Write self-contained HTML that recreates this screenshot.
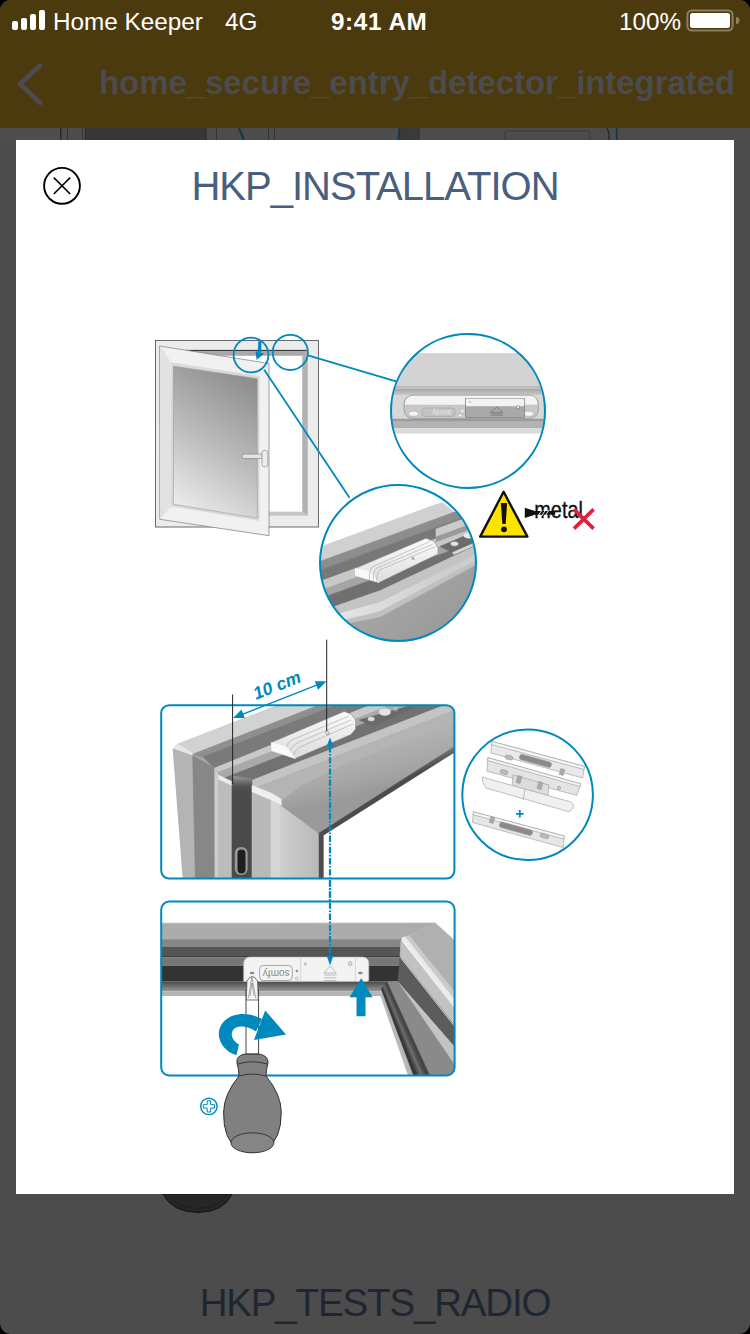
<!DOCTYPE html>
<html><head><meta charset="utf-8">
<style>
*{margin:0;padding:0;box-sizing:border-box}
html,body{width:750px;height:1334px;overflow:hidden;background:#000}
body{font-family:"Liberation Sans",sans-serif;position:relative}
#screen{position:absolute;left:0;top:0;width:750px;height:1334px;border-radius:11px;overflow:hidden;background:#4c4c4c}
#nav{position:absolute;left:0;top:0;width:750px;height:128px;background:#4a3a0e}
.sb{position:absolute;color:#fff;font-size:24.3px;margin-top:1.5px;white-space:nowrap;line-height:1}
#navtitle{position:absolute;left:99px;top:66.5px;font-size:32.9px;font-weight:bold;color:#4c4c4e;white-space:nowrap;line-height:1}
#modal{position:absolute;left:16px;top:140px;width:718px;height:1054px;background:#fff}
#title{position:absolute;left:0;width:750px;text-align:center;top:166px;font-size:40px;letter-spacing:-1px;color:#48607e;white-space:nowrap;line-height:1}
#bottomtitle{position:absolute;left:0;width:750px;text-align:center;top:1283.5px;font-size:38.5px;letter-spacing:-1.15px;color:#1e2731;white-space:nowrap;line-height:1}
svg{position:absolute;left:0;top:0}
</style></head>
<body>
<div id="screen">
  <div id="nav"></div>
  <svg width="750" height="1334" viewBox="0 0 750 1334" style="position:absolute;left:0;top:0">
 <!-- background page remnants under overlay -->
 <rect x="0" y="128" width="750" height="14" fill="#4c4c4c"/>
 <rect x="0" y="128" width="60" height="14" fill="#4e4e4e"/>
 <rect x="86" y="128" width="120" height="14" fill="#373737"/>
 <rect x="60" y="128" width="1.5" height="14" fill="#2a2a2a"/>
 <rect x="67" y="128" width="1" height="14" fill="#333"/>
 <rect x="82" y="128" width="1" height="14" fill="#333"/>
 <rect x="85" y="128" width="1" height="14" fill="#2a2a2a"/>
 <rect x="205" y="128" width="1.5" height="14" fill="#2e2e2e"/>
 <rect x="216" y="128" width="1" height="14" fill="#333"/>
 <rect x="268" y="128" width="1" height="14" fill="#333"/>
 <rect x="274" y="128" width="1" height="14" fill="#333"/>
 <path d="M239 128 L244 140" stroke="#0a3a4e" stroke-width="2"/>
 <rect x="400" y="128" width="20" height="14" fill="#3a3a3a"/>
 <path d="M399.5 128 L398.5 140" stroke="#0a3a4e" stroke-width="2"/>
 <path d="M505 140 V133 q0 -2 2 -2 H588 q2 0 2 2 V140" fill="none" stroke="#3a3a3a" stroke-width="1"/>
 <path d="M607 128 q3 6 2 12" fill="none" stroke="#2a2a2a" stroke-width="1.5"/>
 <path d="M616.5 128 L617 140" stroke="#0a3a4e" stroke-width="1.5"/>
 <!-- handle below modal -->
 <path d="M163 1194 Q172 1212 198 1212.5 Q224 1212 232 1194 Z" fill="#262626" stroke="#111" stroke-width="1"/>
 <path d="M168 1194 Q176 1208 198 1208.5 Q220 1208 227 1194" fill="none" stroke="#1a1a1a" stroke-width="0.8"/>
 <rect x="40" y="1229.8" width="670" height="1" fill="#494949"/>
</svg>

  <!-- status bar -->
  <svg width="750" height="40" viewBox="0 0 750 40">
    <g fill="#fff">
      <rect x="12" y="21" width="6" height="9" rx="2"/>
      <rect x="21" y="18" width="6" height="12" rx="2"/>
      <rect x="30" y="14" width="6" height="16" rx="2"/>
      <rect x="39" y="10" width="6" height="20" rx="2"/>
    </g>
    <rect x="687.4" y="10.4" width="45.2" height="20.2" rx="4.5" fill="none" stroke="#8a7f62" stroke-width="2"/>
    <rect x="690" y="13" width="40" height="15" rx="2.5" fill="#fff"/>
    <path d="M736 17 v7 a3.5 3.5 0 0 0 0 -7z" fill="#8a7f62"/>
  </svg>
  <div class="sb" style="left:53px;top:8px">Home Keeper</div>
  <div class="sb" style="left:225px;top:8px">4G</div>
  <div class="sb" style="left:331px;top:8px;font-weight:bold;letter-spacing:0.6px">9:41 AM</div>
  <div class="sb" style="left:619px;top:8px">100%</div>
  <!-- nav -->
  <svg width="60" height="128" viewBox="0 0 60 128">
    <path d="M40 65.5 L20 84 L40 102.8" fill="none" stroke="#4c4c4e" stroke-width="4.8" stroke-linecap="round" stroke-linejoin="round"/>
  </svg>
  <div id="navtitle">home_secure_entry_detector_integrated</div>
  <div id="bottomtitle">HKP_TESTS_RADIO</div>
  <div id="modal"></div>
  <div id="title">HKP_INSTALLATION</div>
  <svg width="100" height="230" viewBox="0 0 100 230">
    <circle cx="62" cy="185.8" r="17.9" fill="none" stroke="#000" stroke-width="1.9"/>
    <path d="M53.8 177.6 L70.2 194 M70.2 177.6 L53.8 194" stroke="#000" stroke-width="1.6"/>
  </svg>
  <svg width="750" height="1334" viewBox="0 0 750 1334" style="position:absolute;left:0;top:0">
<defs>
  <clipPath id="bx1"><rect x="161.2" y="705.2" width="293.2" height="173.4" rx="8"/></clipPath>
  <clipPath id="bx2"><rect x="161.2" y="901.6" width="293.4" height="173.9" rx="8"/></clipPath>
  <clipPath id="c3"><circle cx="527.6" cy="794.8" r="64.5"/></clipPath>
  <linearGradient id="rail" x1="400" y1="700" x2="420" y2="780" gradientUnits="userSpaceOnUse">
    <stop offset="0" stop-color="#a4a4a4"/><stop offset="0.45" stop-color="#b2b2b2"/><stop offset="0.8" stop-color="#a6a6a6"/><stop offset="1" stop-color="#9a9a9a"/>
  </linearGradient>
  <linearGradient id="edge" x1="400" y1="770" x2="404" y2="779" gradientUnits="userSpaceOnUse">
    <stop offset="0" stop-color="#7a7a7a"/><stop offset="1" stop-color="#4c4c4c"/>
  </linearGradient>
  <linearGradient id="stile" x1="280" y1="0" x2="318" y2="0" gradientUnits="userSpaceOnUse">
    <stop offset="0" stop-color="#cfcfcf"/><stop offset="1" stop-color="#b9b9b9"/>
  </linearGradient>
  <linearGradient id="post" x1="0" y1="776" x2="0" y2="792" gradientUnits="userSpaceOnUse">
    <stop offset="0" stop-color="#9a9a9a"/><stop offset="0.6" stop-color="#555"/><stop offset="1" stop-color="#4a4a4a"/>
  </linearGradient>
  <linearGradient id="sens2" x1="0" y1="0" x2="0" y2="1"><stop offset="0" stop-color="#fafafa"/><stop offset="1" stop-color="#dcdcdc"/></linearGradient>
  <linearGradient id="bgrad" x1="0" y1="981.6" x2="0" y2="991.5" gradientUnits="userSpaceOnUse">
    <stop offset="0" stop-color="#4a4a4a"/><stop offset="1" stop-color="#9a9a9a"/>
  </linearGradient>
  <linearGradient id="darkstrip" x1="381" y1="0" x2="392" y2="0" gradientUnits="userSpaceOnUse" gradientTransform="rotate(-20 400 1030)">
    <stop offset="0" stop-color="#333"/><stop offset="0.5" stop-color="#6a6a6a"/><stop offset="1" stop-color="#3a3a3a"/>
  </linearGradient>
  <linearGradient id="hl" x1="420" y1="960" x2="440" y2="950" gradientUnits="userSpaceOnUse">
    <stop offset="0" stop-color="#e8eaea"/><stop offset="1" stop-color="#c9c9c9"/>
  </linearGradient>
</defs>
<defs>
  <linearGradient id="glass" x1="173" y1="504" x2="257" y2="378" gradientUnits="userSpaceOnUse">
    <stop offset="0" stop-color="#ececec"/><stop offset="0.45" stop-color="#bdbdbd"/><stop offset="1" stop-color="#8a8a8a"/>
  </linearGradient>
  <linearGradient id="g1" x1="0" y1="0" x2="0" y2="1"><stop offset="0" stop-color="#a3a3a3"/><stop offset="1" stop-color="#cbcbcb"/></linearGradient>
  <linearGradient id="sens" x1="0" y1="0" x2="0" y2="1"><stop offset="0" stop-color="#fbfbfb"/><stop offset="1" stop-color="#dedede"/></linearGradient>
  <linearGradient id="g2l" x1="330" y1="0" x2="450" y2="0" gradientUnits="userSpaceOnUse"><stop offset="0" stop-color="#e6e6e6"/><stop offset="1" stop-color="#cdcdcd"/></linearGradient>
  <linearGradient id="ibot" x1="400" y1="590" x2="440" y2="640" gradientUnits="userSpaceOnUse"><stop offset="0" stop-color="#a4a4a4"/><stop offset="1" stop-color="#9a9a9a"/></linearGradient>
  <clipPath id="c1"><circle cx="468" cy="411" r="76.5"/></clipPath>
  <clipPath id="c2"><circle cx="398" cy="563" r="77.5"/></clipPath>
</defs>
<!-- ===== window ===== -->
<g>
 <rect x="155.5" y="340.5" width="163" height="186.5" fill="#ececec" stroke="#6a6a6a" stroke-width="1"/>
 <rect x="186" y="350" width="121.5" height="165.5" fill="#fff"/>
 <polygon points="186,350 307.5,350 302.5,355.5 186,355.5" fill="#a9a9a9" stroke="#a9a9a9" stroke-width="0.6"/>
 <line x1="186" y1="350.5" x2="307.5" y2="350.5" stroke="#3a3a3a" stroke-width="1"/>
 <polygon points="302.5,355.5 307.5,350 307.5,515.5 302.5,512" fill="#b2b2b2" stroke="#b2b2b2" stroke-width="0.6"/>
 <polygon points="186,512 302.5,512 307.5,515.5 186,515.5" fill="#c6c6c6" stroke="#c6c6c6" stroke-width="0.6"/>
 <polygon points="159.6,346 269,363.5 269,535.7 159.8,519.3" fill="#f1f1f1" stroke="#8a8a8a" stroke-width="0.8"/>
 <polygon points="160.5,347 172,364 172,505 160.5,518" fill="#e2e2e2" stroke="#e2e2e2" stroke-width="0.6"/>
 <polygon points="171.6,362.8 259.2,376.3 259.2,520.5 171.6,506.2" fill="#d9d9d9" stroke="#d9d9d9" stroke-width="0.6"/>
 <polygon points="173.4,366.2 257.3,378.7 257.3,518.2 173.3,504.2" fill="url(#glass)" stroke="#9a9a9a" stroke-width="0.6"/>
 <rect x="242" y="454" width="21" height="4.6" rx="2.2" fill="#e2e2e2" stroke="#7a7a7a" stroke-width="0.6"/>
 <rect x="262" y="450.5" width="5.8" height="16.3" rx="2.2" fill="#ededed" stroke="#7a7a7a" stroke-width="0.6"/>
</g>
<g fill="none" stroke="#0089bd" stroke-width="1.8">
 <circle cx="251" cy="355" r="17.4"/>
 <circle cx="290.3" cy="352.4" r="17.6"/>
 <line x1="308" y1="355.3" x2="397" y2="381.6"/>
 <line x1="264.2" y1="369.8" x2="349.5" y2="497.7"/>
</g>
<path d="M258.3 341 L261.4 341.5 L261.2 352.5 L257.8 352.5 Z" fill="#0089bd"/>
<path d="M255.6 351.2 L264.2 353.6 L256.6 360 Z" fill="#0089bd"/>
<!-- ===== big circle 1 ===== -->
<circle cx="468" cy="411" r="77" fill="#fff"/>
<g clip-path="url(#c1)">
 <rect x="390" y="353.1" width="156" height="32.4" fill="#d3d3d3"/>
 <rect x="390" y="385.5" width="156" height="3.2" fill="#bcbcbc"/>
 <rect x="390" y="388.7" width="156" height="6.4" fill="url(#g1)"/>
 <rect x="390" y="395.1" width="156" height="23.5" fill="#d7d7d7"/>
 <rect x="390" y="418.6" width="156" height="3.2" fill="#9c9c9c"/>
 <rect x="390" y="421.8" width="156" height="6.4" fill="#b3b3b3"/>
 <rect x="390" y="428.2" width="156" height="5.3" fill="#dadada"/>
 <rect x="404" y="395.1" width="134.3" height="23.5" rx="9" fill="#c8c8c8" stroke="#8e8e8e" stroke-width="0.7"/>
 <path d="M412 395.8 H530 a7.5 7.5 0 0 1 7.5 7.5 V405.2 H405 a8 8 0 0 1 7 -9.4 Z" fill="#f3f3f3"/>
 <path d="M405 405.2 H537.5" stroke="#b5b5b5" stroke-width="0.6"/>
 <ellipse cx="413.5" cy="413.7" rx="5" ry="2.6" fill="#f4f4f4" stroke="#999" stroke-width="0.5"/>
 <ellipse cx="528.7" cy="413.7" rx="5" ry="2.6" fill="#f4f4f4" stroke="#999" stroke-width="0.5"/>
 <rect x="422" y="408" width="33" height="8.5" rx="3" fill="#c4c4c4" stroke="#a8a8a8" stroke-width="0.8"/>
 <text x="0" y="0" font-family="Liberation Sans" font-size="7" fill="#e8e8e8" transform="translate(451 410.3) rotate(180)">somfy</text>
 <circle cx="462.5" cy="411" r="1.3" fill="#f2f2f2"/>
 <ellipse cx="460.4" cy="415.4" rx="2.3" ry="1.5" fill="#eee" stroke="#999" stroke-width="0.4"/>
 <rect x="465.7" y="398.3" width="58.7" height="19.2" fill="#a9a9a9" stroke="#707070" stroke-width="0.6"/>
 <rect x="466" y="398.6" width="58.1" height="7.6" fill="#f3f3f3"/>
 <path d="M496.7 407 L490.6 412.4 L502.8 412.4 Z" fill="none" stroke="#666" stroke-width="0.6"/>
 <path d="M490.6 413.9 H502.8 M490.6 415.3 H502.8" stroke="#666" stroke-width="0.5"/>
 <circle cx="518" cy="407" r="1.6" fill="#eee" stroke="#666" stroke-width="0.5"/>
 <path d="M469 402.5 l1 -1.5 l1 1.5z" fill="#888"/>
</g>
<circle cx="468" cy="411" r="77" fill="none" stroke="#0089bd" stroke-width="2"/>
<!-- ===== lower circle ===== -->
<circle cx="398" cy="563" r="78" fill="#fff"/>
<g clip-path="url(#c2)">
 <polygon points="316.0,548.5 480.0,488.2 480.0,502.6 316.0,562.9" fill="#d0d0d0" stroke="#d0d0d0" stroke-width="0.6"/>
 <polygon points="316.0,562.9 480.0,502.6 480.0,511.3 316.0,571.6" fill="#8d8d8d" stroke="#8d8d8d" stroke-width="0.6"/>
 <polygon points="316.0,571.6 480.0,511.3 480.0,522.6 316.0,582.9" fill="#787878" stroke="#787878" stroke-width="0.6"/>
 <polygon points="316.0,582.9 480.0,522.6 480.0,531.9 316.0,592.2" fill="#c8c8c8" stroke="#c8c8c8" stroke-width="0.6"/>
 <polygon points="316.0,592.2 480.0,531.9 480.0,539.9 316.0,600.2" fill="#a5a5a5" stroke="#a5a5a5" stroke-width="0.6"/>
 <polygon points="316.0,600.2 480.0,539.9 480,544 380,590.7 316,613" fill="#707070" stroke="#707070" stroke-width="0.6"/>
 <polygon points="316,613 380,590.7 480,544 480,553 380,602.5 316,620" fill="#c4c4c4" stroke="#c4c4c4" stroke-width="0.6"/>
 <polygon points="316,620 380,602.5 480,553 480,558 380,611.5 316,627" fill="url(#g2l)" stroke="url(#g2l)" stroke-width="0.6"/>
 <polygon points="316,627 380,611.5 480,558 480,563 380,617.3 316,630" fill="#c0c0c0" stroke="#c0c0c0" stroke-width="0.6"/>
 <polygon points="316,630 380,617.3 480,563 480,660 316,660" fill="url(#ibot)" stroke="url(#ibot)" stroke-width="0.6"/>
 <!-- right-side variants -->
 <polygon points="436,529 480,512.8 480,520.8 436,537" fill="#cbcbcb" stroke="#cbcbcb" stroke-width="0.6"/>
 <polygon points="436,537 480,520.8 480,525.6 436,541.8" fill="#9a9a9a" stroke="#9a9a9a" stroke-width="0.6"/>
 <path d="M437 504 Q441 500.8 444 503.5 L454.5 512 L482 501.6 L482 470 L436 470 Z" fill="#fff"/>
 <!-- plate -->
 <polygon points="440,546.5 476,531 479,541 452.5,552.5" fill="#6c6c6c" stroke="#6c6c6c" stroke-width="0.6"/>
 <polygon points="452.5,552.5 479,541 480,543 454,554.5" fill="#d8d8d8" stroke="#d8d8d8" stroke-width="0.6"/>
 <ellipse cx="454.5" cy="543.8" rx="4" ry="2.4" fill="#e4e4e4" stroke="#888" stroke-width="0.5"/>
 <ellipse cx="469" cy="535.5" rx="5.5" ry="3" fill="#e8e8e8"/>
 <!-- bottom-left highlight -->
 <!-- sensor shadow -->
 <!-- sensor -->
 <polygon points="355,568.6 426,538.2 434,541.5 438,548 438,554 379,582.6 355,575.6" fill="url(#sens)" stroke="#8a8a8a" stroke-width="0.6"/>
 <polygon points="355,568.6 369,571 379,582.6 355,575.6" fill="#f8f8f8" stroke="#f8f8f8" stroke-width="0.6"/>
 <path d="M369.5 580 Q368.5 572 372 567 L430 541.5 M373.5 581.5 Q372.5 573.5 376 568.5 L433 544 M377 582.5 Q376 575 379.5 570 L435.5 546.5" fill="none" stroke="#9a9a9a" stroke-width="0.5"/>
 <path d="M412 560 l1 -3 l1.5 3" fill="none" stroke="#666" stroke-width="0.6"/>
</g>
<circle cx="398" cy="563" r="78" fill="none" stroke="#0089bd" stroke-width="2"/>
<!-- ===== warning ===== -->
<path d="M503.6 491.8 L480.2 536.6 L527.4 536.6 Z" fill="#ffe300" stroke="#111" stroke-width="2.4" stroke-linejoin="round"/>
<path d="M500.9 503 L507.1 503 L505.7 524 L502.3 524 Z" fill="#111"/>
<circle cx="504" cy="529.3" r="2.9" fill="#111"/>
<text x="534.3" y="517.9" font-family="Liberation Sans" font-size="23" fill="#111" stroke="#111" stroke-width="0.35" transform="translate(534.3 0) scale(0.865 1) translate(-534.3 0)">metal</text>
<path d="M524.8 507.8 L535 511 L555.2 511 L555.2 514.7 L535 514.7 L524.8 518 Z" fill="#111"/>
<path d="M538 516 L542 510 M541.5 516 L545.5 510 M545 516 L549 510" stroke="#fff" stroke-width="0.9"/>
<path d="M574 509.4 L593.6 528.6 M593.6 509.4 L574 528.6" stroke="#e0203c" stroke-width="3.6"/>
<!-- ===== middle box ===== -->
<g clip-path="url(#bx1)">
<rect x="160" y="704" width="296" height="176" fill="#fff"/>
<polygon points="173.3,749.5 177.3,744.5 462.0,634.3 462.0,747.3 323.2,835.2 323.2,882.0 183.5,882.0" fill="#a6a6a6" stroke="#a6a6a6" stroke-width="0.6"/>
<polygon points="173.8,748.5 177.3,744.5 462.0,634.3 462.0,649.3 193.3,754.1" fill="#d2d2d2" stroke="#d2d2d2" stroke-width="0.6"/>
<polygon points="173.8,748.5 177.3,744.5 193.3,753.6 192.7,755.8" fill="#e6e6e6" stroke="#e6e6e6" stroke-width="0.6"/>
<polygon points="192.7,754.3 462.0,649.3 462.0,656.0 203.0,757.0" fill="#8f8f8f" stroke="#8f8f8f" stroke-width="0.6"/>
<polygon points="203.0,757.0 462.0,656.0 462.0,668.0 214.7,768.0" fill="#7a7a7a" stroke="#7a7a7a" stroke-width="0.6"/>
<polygon points="214.7,768.0 462.0,668.0 462.0,677.3 218.7,772.2" fill="#c9c9c9" stroke="#c9c9c9" stroke-width="0.6"/>
<polygon points="218.7,772.2 462.0,677.3 462.0,685.3 218.7,780.2" fill="#a9a9a9" stroke="#a9a9a9" stroke-width="0.6"/>
<polygon points="218.7,780.2 462.0,685.3 462.0,698.3 218.7,793.2" fill="#727272" stroke="#727272" stroke-width="0.6"/>
<polygon points="218.7,793.2 462.0,698.3 462.0,707.3 218.7,802.2" fill="#c4c4c4" stroke="#c4c4c4" stroke-width="0.6"/>
<polygon points="218.7,802.2 462.0,707.3 462.0,720.0 340.0,766.5 300.0,787.0 280.0,802.0 250.0,812.0" fill="#b4b4b4" stroke="#b4b4b4" stroke-width="0.6"/>
<polygon points="250.0,812.0 280.0,802.0 300.0,787.0 340.0,766.5 462.0,720.0 462.0,741.7 318.4,833.6" fill="url(#rail)" stroke="url(#rail)" stroke-width="0.6"/>
<polygon points="318.4,833.6 462.0,741.7 462.0,747.3 323.2,835.2 323.2,882.0 318.4,882.0" fill="url(#edge)" stroke="url(#edge)" stroke-width="0.6"/>
<polygon points="173.3,749.5 192.7,755.8 195.5,882.0 183.5,882.0" fill="#b4b4b4" stroke="#b4b4b4" stroke-width="0.6"/>
<polygon points="192.7,755.8 214.7,768.0 218.8,882.0 195.5,882.0" fill="#878787" stroke="#878787" stroke-width="0.6"/>
<polygon points="214.7,768.0 218.7,775.3 218.7,882.0 214.9,882.0" fill="#cdcdcd" stroke="#cdcdcd" stroke-width="0.6"/>
<polygon points="218.7,779.0 232.0,785.0 232.0,882.0 218.7,882.0" fill="#bcbcbc" stroke="#bcbcbc" stroke-width="0.6"/>
<polygon points="218.7,775.3 232.0,781.5 232.0,785.5 218.7,779.3" fill="#ececec" stroke="#ececec" stroke-width="0.6"/>
<polygon points="232.0,776.0 252.0,779.0 252.0,882.0 232.0,882.0" fill="url(#post)" stroke="url(#post)" stroke-width="0.6"/>
<polygon points="252.0,785.5 271.0,793.0 281.0,799.0 281.5,805.3 271.0,800.5 252.0,792.5" fill="#efefef" stroke="#efefef" stroke-width="0.6"/>
<polygon points="252.0,792.5 271.0,800.5 271.0,882.0 252.0,882.0" fill="#b9b9b9" stroke="#b9b9b9" stroke-width="0.6"/>
<polygon points="271.0,800.5 280.0,805.3 280.0,882.0 271.0,882.0" fill="#d6d6d6" stroke="#d6d6d6" stroke-width="0.6"/>
<polygon points="280.0,805.3 318.4,833.6 318.4,882.0 280.0,882.0" fill="url(#stile)" stroke="url(#stile)" stroke-width="0.6"/>

 <!-- handle slot -->
 <rect x="234.8" y="847" width="12.8" height="28" rx="6" fill="#9a9a9a"/>
 <rect x="237.5" y="849.5" width="8" height="24" rx="4" fill="#1e1e1e"/>
 <!-- plate -->
 <polygon points="359.2,720 411,705.6 414.5,708.3 372.5,726" fill="#6a6a6a" stroke="#6a6a6a" stroke-width="0.6"/>
 <ellipse cx="371.2" cy="719" rx="3.4" ry="2.2" fill="#e0e0e0" stroke="#999" stroke-width="0.4"/>
 <ellipse cx="384.8" cy="712" rx="6" ry="3.8" fill="#e2e2e2"/>
 <circle cx="395.5" cy="709" r="1.6" fill="none" stroke="#ddd" stroke-width="0.8"/>
 <!-- sensor -->
 <polygon points="271.3,742.5 344,711.5 351,714 355.6,720 355.6,729 351,734.5 295.3,758.5 271.3,750.7" fill="url(#sens2)" stroke="#8a8a8a" stroke-width="0.6"/>
 <polygon points="271.3,742.5 286,746.5 295.3,758.5 271.3,750.7" fill="#f9f9f9" stroke="#f9f9f9" stroke-width="0.6"/>
 <path d="M286 747 Q288 741 294 739 L349 716 M290 751 Q292 745 298 742.5 L351 720 M293.5 755 Q295.5 749 301 746.5 L353 724" fill="none" stroke="#9a9a9a" stroke-width="0.5"/>
</g>
<rect x="161.2" y="705.2" width="293.2" height="173.4" rx="8" fill="none" stroke="#0089bd" stroke-width="2"/>
<!-- 10 cm annotation -->
<line x1="232.6" y1="694.5" x2="232.6" y2="784" stroke="#222" stroke-width="1"/>
<line x1="326.7" y1="639.6" x2="326.7" y2="731" stroke="#222" stroke-width="1"/>
<path d="M325.5 732 l2.5 -1 l1.5 3 l-2.5 1 z" fill="none" stroke="#666" stroke-width="0.5"/>
<line x1="236" y1="716.8" x2="323.6" y2="682.4" stroke="#0089bd" stroke-width="1.4"/>
<path d="M233.1 717.9 L241.5 709.5 L244.8 717.9 Z" fill="#0089bd"/>
<path d="M326.5 681.3 L318.1 689.7 L314.8 681.3 Z" fill="#0089bd"/>
<text x="0" y="0" font-family="Liberation Sans" font-weight="bold" font-style="italic" font-size="17.5" fill="#0089bd" transform="translate(256 699.8) rotate(-21.4)">10 cm</text>
<!-- dash-dot line -->
<line x1="330" y1="746" x2="330" y2="957" stroke="#0089bd" stroke-width="2.2" stroke-dasharray="6.4 1.6 1.6 1.6"/>
<path d="M330 737.5 L326.5 746.5 L333.5 746.5 Z" fill="#0089bd"/>
<!-- small circle with parts -->
<circle cx="527.6" cy="794.8" r="65.3" fill="#fff" stroke="#0089bd" stroke-width="2"/>
<g clip-path="url(#c3)" stroke="#9a9a9a" stroke-width="0.6">
 <polygon stroke="#9a9a9a" stroke-width="0.6" points="491.7,741.3 584.5,766.4 582.6,778 490.8,752.9" fill="#e9e9e9"/>
 <polygon stroke="#9a9a9a" stroke-width="0.6" points="491.7,741.3 584.5,766.4 584,769.5 491.5,744.5" fill="#f7f7f7"/>
 <rect x="505" y="755.5" width="8" height="4" rx="2" fill="#bbb" transform="rotate(15.5 509 757.5)"/>
 <rect x="519" y="758" width="33" height="5.5" rx="2.5" fill="#8a8a8a" transform="rotate(15.5 535 760.5)"/>
 <rect x="560" y="769" width="4" height="6" fill="#aaa" transform="rotate(15.5 562 772)"/>
 <polygon stroke="#9a9a9a" stroke-width="0.6" points="487.9,757.7 580.7,783.8 576.8,795.4 486.9,771.2" fill="#e4e4e4"/>
 <polygon stroke="#9a9a9a" stroke-width="0.6" points="487.9,757.7 580.7,783.8 580,786.5 487.6,760.5" fill="#f5f5f5"/>
 <rect x="500" y="770" width="8" height="4" rx="2" fill="#bbb" transform="rotate(15.5 504 772)"/>
 <polygon stroke="#9a9a9a" stroke-width="0.6" points="513,775 549,785 548,796 512,786" fill="#dcdcdc"/>
 <rect x="517" y="776" width="4" height="7" fill="#aaa" transform="rotate(15.5 519 779.5)"/>
 <rect x="538" y="782" width="4" height="7" fill="#aaa" transform="rotate(15.5 540 785.5)"/>
 <circle cx="559" cy="788" r="1.6" fill="#ccc"/>
 <path d="M482,777 L571,802 Q575,804 573,808 L569,811.8 L486,788 Q482,783 482,777 Z" fill="#f0f0f0"/>
 <line x1="525" y1="789" x2="523" y2="800" />
 <polygon stroke="#9a9a9a" stroke-width="0.6" points="473.4,811.8 564.2,836 563.3,847.6 472.4,822.5" fill="#e6e6e6"/>
 <polygon stroke="#9a9a9a" stroke-width="0.6" points="473.4,811.8 564.2,836 563.9,839 473.2,814.8" fill="#f6f6f6"/>
 <rect x="490" y="817" width="4" height="6" fill="#aaa" transform="rotate(15.5 492 820)"/>
 <rect x="499" y="826" width="34" height="5.5" rx="2.5" fill="#8a8a8a" transform="rotate(15.5 516 828.5)"/>
 <rect x="540" y="834" width="9" height="4" rx="2" fill="#bbb" transform="rotate(15.5 544.5 836)"/>
</g>
<path d="M519.8 810 V817.6 M516 813.8 H523.6" stroke="#0089bd" stroke-width="1.8"/>
<!-- ===== bottom box ===== -->
<g clip-path="url(#bx2)">
 <rect x="160" y="900" width="296" height="177" fill="#fff"/>
 <polygon points="160,923.2 435.2,923 406,936.5 401.6,938 401.6,939.2 160,939.2" fill="#acacac" stroke="#acacac" stroke-width="0.6"/>
 <rect x="160" y="939.2" width="241.6" height="7.2" fill="#868686"/>
 <rect x="160" y="946.4" width="241.6" height="9.6" fill="#555"/>
 <rect x="160" y="956" width="241.6" height="1.6" fill="#3e3e3e"/>
 <rect x="160" y="957.6" width="241.6" height="8" fill="#777"/>
 <rect x="160" y="965.6" width="241.6" height="16" fill="#333"/>
 <rect x="160" y="981.6" width="232" height="9.9" fill="url(#bgrad)"/>
 <rect x="160" y="991.4" width="226" height="4.6" fill="#b4b4b4"/>
 <!-- right post -->
 <polygon points="406,936.5 435.2,923 454.6,940.4 454.6,994.3" fill="#b0b0b0" stroke="#b0b0b0" stroke-width="0.6"/>
 <polygon points="404,937 409,935.5 454.6,992 454.6,1001" fill="#cbcbcb" stroke="#cbcbcb" stroke-width="0.6"/>
 <polygon points="401.6,938 405,936.8 454.6,1000 454.6,1008.7" fill="#ebebeb" stroke="#ebebeb" stroke-width="0.6"/>
 <polygon points="401,940 454.6,1008.7 454.6,1025.5 400,956.5" fill="#c2c2c2" stroke="#c2c2c2" stroke-width="0.6"/>
 <polygon points="400,956.5 454.6,1025.5 454.6,1047 398,982" fill="#5c5c5c" stroke="#5c5c5c" stroke-width="0.6"/>
 <line x1="400.5" y1="957.5" x2="454.6" y2="1026.3" stroke="#f0f0f0" stroke-width="0.8"/>
 <polygon points="398,982 454.6,1047 454.6,1065" fill="#c4c4c4" stroke="#c4c4c4" stroke-width="0.6"/>
 <polygon points="387,982 398,982 454.6,1065 454.6,1077 430.4,1077" fill="#8a8a8a" stroke="#8a8a8a" stroke-width="0.6"/>
 <polygon points="381.0,990.0 387.0,982.0 430.4,1077.0 413.6,1077.0" fill="#444" stroke="#444" stroke-width="0.6"/>
 <polygon points="381.0,990.0 382.8,987.6 418.6,1077.0 413.6,1077.0" fill="#383838" stroke="#383838" stroke-width="0.6"/>
 <polygon points="382.8,987.6 383.7,986.4 421.2,1077.0 418.6,1077.0" fill="#555" stroke="#555" stroke-width="0.6"/>
 <polygon points="383.7,986.4 384.7,985.0 424.0,1077.0 421.2,1077.0" fill="#6e6e6e" stroke="#6e6e6e" stroke-width="0.6"/>
 <polygon points="384.7,985.0 385.5,984.0 426.2,1077.0 424.0,1077.0" fill="#555" stroke="#555" stroke-width="0.6"/>
 <polygon points="379.5,992.5 381,990 413.6,1077 408.8,1077" fill="#b8b8b8" stroke="#b8b8b8" stroke-width="0.6"/>
 <!-- sensor plate -->
 <path d="M243.7 981.4 V963 a6 6 0 0 1 6 -6 H362.8 a6 6 0 0 1 6 6 V979.4 a2 2 0 0 1 -2 2 Z" fill="#f3f3f3" stroke="#bdbdbd" stroke-width="0.7"/>
 <line x1="300.7" y1="958" x2="300.7" y2="981" stroke="#c8c8c8" stroke-width="0.7"/>
 <line x1="355.4" y1="958" x2="355.4" y2="981" stroke="#c8c8c8" stroke-width="0.7"/>
 <rect x="259.6" y="965.5" width="32.7" height="15" rx="3.5" fill="none" stroke="#a8a8a8" stroke-width="1"/>
 <text x="0" y="0" font-family="Liberation Sans" font-size="10" fill="#8a8a8a" transform="translate(289.5 969.5) rotate(180)">somfy</text>
 <circle cx="296.9" cy="971.1" r="1.4" fill="#999"/>
 <circle cx="296.9" cy="978.6" r="1.8" fill="#ddd" stroke="#aaa" stroke-width="0.4"/>
 <ellipse cx="252.1" cy="973" rx="2.4" ry="1.3" fill="#888"/>
 <ellipse cx="360.4" cy="973" rx="2.4" ry="1.3" fill="#888"/>
 <path d="M330.2 966 L324 973 H336.4 Z" fill="none" stroke="#999" stroke-width="0.6"/>
 <path d="M324 975 H336.4 M324 977.8 H336.4 M324 980.5 H336.4" stroke="#999" stroke-width="0.6"/>
 <path d="M305.3 962.3 l-1.3 2.4 h2.6 z" fill="none" stroke="#888" stroke-width="0.5"/>
 <circle cx="350.1" cy="963.7" r="1.9" fill="#ddd" stroke="#888" stroke-width="0.5"/>
</g>
<rect x="161.2" y="901.6" width="293.4" height="173.9" rx="8" fill="none" stroke="#0089bd" stroke-width="2"/>
<!-- dash-dot continuation (top part) -->
<line x1="330" y1="880" x2="330" y2="957" stroke="#0089bd" stroke-width="2.2" stroke-dasharray="6.4 1.6 1.6 1.6"/>
<path d="M330 965.5 L326.8 956 L333.3 956 Z" fill="#0089bd"/>
<!-- up arrow -->
<path d="M361.2 978.2 L372.5 997.3 L365.5 997.3 V1016.3 H356.5 V997.3 L349.5 997.3 Z" fill="#0089bd"/>
<!-- screwdriver shaft & tip -->
<rect x="246" y="990" width="12.6" height="64" fill="#fff" stroke="#333" stroke-width="0.9"/>
<path d="M246.3 1000 L247 981 Q252 972 257.6 981 L258.3 1000 Z" fill="#f4f4f4" stroke="#444" stroke-width="0.7"/>
<path d="M248.5 998 L251.8 977 L255.8 998 M250 996 L252 983 L254 996" fill="none" stroke="#777" stroke-width="0.6"/>
<!-- rotation arrow -->
<path d="M236.4 1055.2 C226 1052 219 1043 218.8 1034.4 C218.6 1025 226 1016 238 1014.4 C246 1013.4 254 1015 262 1019 L256 1031.5 C250 1027.5 244 1025.8 238.5 1026.8 C233.5 1027.8 231 1032 232 1036.5 C233 1040 235.5 1042.5 239 1044.5 Z" fill="#0089bd"/>
<path d="M254 1040 L265.2 1010.4 L286 1034.4 Z" fill="#0089bd"/>
<!-- handle -->
<path d="M237 1063 Q236 1056 244 1054.2 L260 1054.2 Q268.5 1056 268 1063 Q266 1070 266 1076 Q281 1094 281.3 1112 Q281.5 1140 265 1150 Q252 1155 239 1150 Q223 1140 223.6 1112 Q224 1094 239 1076 Q239 1070 237 1063 Z" fill="#808080" stroke="#222" stroke-width="0.9"/>
<path d="M238 1064 Q252 1059.5 267 1064" fill="none" stroke="#222" stroke-width="0.8"/>
<path d="M239.5 1076 Q252 1072 265.5 1076" fill="none" stroke="#222" stroke-width="0.8"/>
<ellipse cx="252.4" cy="1142.8" rx="21.5" ry="10" fill="#858585" stroke="#222" stroke-width="0.8"/>
<!-- phillips icon -->
<circle cx="208.9" cy="1106.4" r="8.2" fill="#fff" stroke="#0089bd" stroke-width="1.4"/>
<path d="M207.2 1100.8 h3.4 v3.9 h3.9 v3.4 h-3.9 v3.9 h-3.4 v-3.9 h-3.9 v-3.4 h3.9 z" fill="none" stroke="#0089bd" stroke-width="1"/>
</svg>
</div>
</body></html>
